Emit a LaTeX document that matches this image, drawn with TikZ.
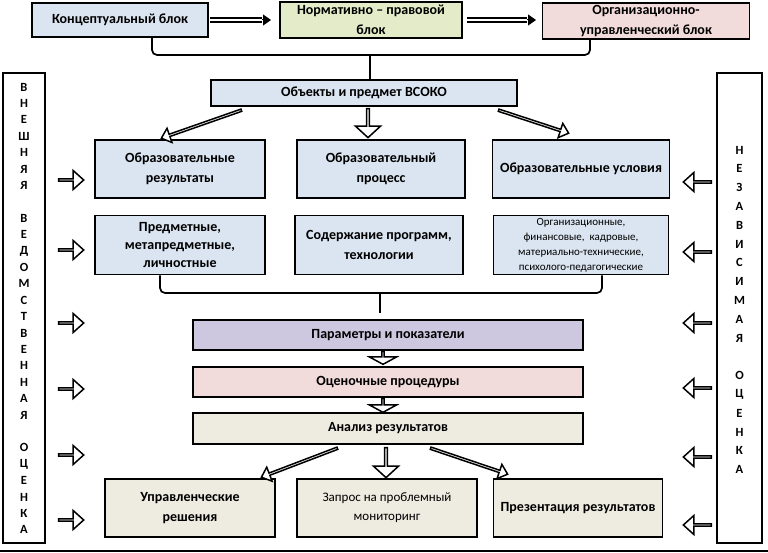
\documentclass[tikz,border=0pt]{standalone}
\usepackage{fontspec}
\setmainfont{Carlito}
\usetikzlibrary{shapes.arrows,calc,arrows.meta}
\definecolor{cblue}{HTML}{DBE5F1}
\definecolor{colive}{HTML}{E3EBC8}
\definecolor{cpink}{HTML}{F2DCDB}
\definecolor{cviolet}{HTML}{CDC7E0}
\definecolor{ctan}{HTML}{EEECE1}
\newcommand\barr[3]{\path let \p1=($(#3)-(#2)$), \n1={veclen(\x1,\y1)} in (#2) -- node[sloped, allow upside down, barrowbase, #1, minimum height=\n1] {} (#3);}
\begin{document}
\begin{tikzpicture}[x=1pt,y=-1pt,
  box/.style={draw=black, line width=1.7pt, align=center, inner sep=1pt, font=\bfseries\fontsize{14}{19.5}\selectfont},
  sidebox/.style={draw=black, line width=1.5pt, fill=white, inner sep=0pt},
  letter/.style={font=\bfseries\fontsize{12.5}{12.5}\selectfont, inner sep=0pt},
  conn/.style={draw=black, line width=1.7pt},
  barrowbase/.style={single arrow, draw=black, fill=white, line width=1.5pt, inner sep=0pt},
  sidearrow/.style={minimum width=19pt, single arrow head extend=5pt, single arrow tip angle=84},
  bigdown/.style={minimum width=25pt, single arrow head extend=6pt, single arrow tip angle=95},
  diag/.style={minimum width=15pt, single arrow head extend=4pt, single arrow tip angle=82},
  stubby/.style={minimum width=27pt, single arrow head extend=8pt, single arrow tip angle=123},
  dblline/.style={draw=black, line width=1.3pt, double=white, double distance=2.6pt},
  dbltip/.style={draw=black, line width=1pt, -{Triangle[length=8pt,width=11pt]}}
]
\useasboundingbox (0,0) rectangle (768,553);
% side boxes
\node[sidebox, minimum width=42pt, minimum height=470pt] (lbox) at (24,308) {};
\node[sidebox, minimum width=45pt, minimum height=470pt] (rbox) at (739.5,308) {};
\foreach \l [count=\i] in {В,Н,Е,Ш,Н,Я,Я,,В,Е,Д,О,М,С,Т,В,Е,Н,Н,А,Я,,О,Ц,Е,Н,К,А}
  \node[letter] (ll\i) at (24,{87+(\i-1)*16.4}) {\l};
\foreach \l [count=\i] in {Н,Е,З,А,В,И,С,И,М,А,Я,,О,Ц,Е,Н,К,А}
  \node[letter] (rl\i) at (739.5,{150+(\i-1)*18.8}) {\l};
% top row
\node[box, fill=cblue, minimum width=176pt, minimum height=34pt] (conc) at (120,20) {Концептуальный блок};
\node[box, fill=colive, minimum width=182pt, minimum height=36pt] (norm) at (371,20) {Нормативно – правовой\\блок};
\node[box, fill=cpink, minimum width=207pt, minimum height=36pt] (orgb) at (646,21) {Организационно-\\управленческий блок};
\coordinate (t1s) at (210,20); \coordinate (t1m) at (262,20); \coordinate (t1e) at (271,20);
\coordinate (t2s) at (467,20); \coordinate (t2m) at (527,20); \coordinate (t2e) at (536,20);
\draw[dblline] (t1s) -- (t1m);
\draw[dbltip] (t1m) -- (t1e);
\draw[dblline] (t2s) -- (t2m);
\draw[dbltip] (t2m) -- (t2e);
% objects
\node[box, fill=cblue, minimum width=306pt, minimum height=26pt] (obj) at (364,93) {Объекты и предмет ВСОКО};
\draw[conn, rounded corners=5pt] ([xshift=32pt]conc.south) |- (370,55) -| ([xshift=-56pt]orgb.south);
\draw[conn] (370,55) -- (370,80);
% row 1
\node[box, fill=cblue, minimum width=170pt, minimum height=58pt] (res) at (180,169) {Образовательные\\результаты};
\node[box, fill=cblue, minimum width=168pt, minimum height=58pt] (proc) at (381,169) {Образовательный\\процесс};
\node[box, fill=cblue, minimum width=177pt, minimum height=58pt] (cond) at (581,169) {Образовательные условия};
% row 2
\node[box, fill=cblue, minimum width=170pt, minimum height=59pt, font=\bfseries\fontsize{14}{18}\selectfont] (subj) at (180,245) {Предметные,\\метапредметные,\\личностные};
\node[box, fill=cblue, minimum width=168pt, minimum height=59pt] (cont) at (379,245) {Содержание программ,\\технологии};
\node[box, fill=cblue, minimum width=175pt, minimum height=59pt, font=\fontsize{11}{15}\selectfont] (orgc) at (581,245) {Организационные,\\финансовые,\ \ кадровые,\\материально-технические,\\психолого-педагогические};
% arrows from objects
\coordinate (oa1s) at (242,110); \coordinate (oa1e) at (162,138);
\coordinate (oa2s) at (368,108); \coordinate (oa2e) at (368,137);
\coordinate (oa3s) at (498,110); \coordinate (oa3e) at (568,133);
\barr{diag}{oa1s}{oa1e}
\barr{bigdown}{oa2s}{oa2e}
\barr{diag}{oa3s}{oa3e}
% brace 2
\draw[conn, rounded corners=5pt] ([xshift=-20pt]subj.south) |- (380,293) -| ([xshift=21pt]orgc.south);
\draw[conn] (380,293) -- (380,313);
% chain
\node[box, fill=cviolet, minimum width=390pt, minimum height=30pt] (par) at (388,335) {Параметры и показатели};
\node[box, fill=cpink, minimum width=390pt, minimum height=30pt] (ocen) at (388,382) {Оценочные процедуры};
\node[box, fill=ctan, minimum width=390pt, minimum height=31pt] (anal) at (388,428.5) {Анализ результатов};
\coordinate (s1s) at (383,351); \coordinate (s1e) at (383,364);
\coordinate (s2s) at (383,398); \coordinate (s2e) at (383,412);
\barr{stubby}{s1s}{s1e}
\barr{stubby}{s2s}{s2e}
% bottom row
\node[box, fill=ctan, minimum width=170pt, minimum height=58pt] (upr) at (190,508) {Управленческие\\решения};
\node[box, fill=ctan, minimum width=180pt, minimum height=58pt, font=\fontsize{13}{19}\selectfont] (zap) at (387,508) {Запрос на проблемный\\мониторинг};
\node[box, fill=ctan, minimum width=169pt, minimum height=58pt] (pres) at (578,508) {Презентация результатов};
\coordinate (aa1s) at (338,448); \coordinate (aa1e) at (262,477);
\coordinate (aa2s) at (386,447); \coordinate (aa2e) at (386,477);
\coordinate (aa3s) at (430,448); \coordinate (aa3e) at (507,474);
\barr{diag}{aa1s}{aa1e}
\barr{bigdown}{aa2s}{aa2e}
\barr{diag}{aa3s}{aa3e}
% side arrows
\foreach \y [count=\i] in {180,250,323,389,455,520}{
  \coordinate (la\i s) at (58,\y); \coordinate (la\i e) at (83,\y);
  \barr{sidearrow}{la\i s}{la\i e}
}
\foreach \y [count=\i] in {182,252,323,388,457,525}{
  \coordinate (ra\i s) at (712,\y); \coordinate (ra\i e) at (684,\y);
  \barr{sidearrow}{ra\i s}{ra\i e}
}
% bottom line
\coordinate (bl) at (0,551); \coordinate (br) at (768,551);
\draw[conn] (bl) -- (br);
\end{tikzpicture}
\end{document}
